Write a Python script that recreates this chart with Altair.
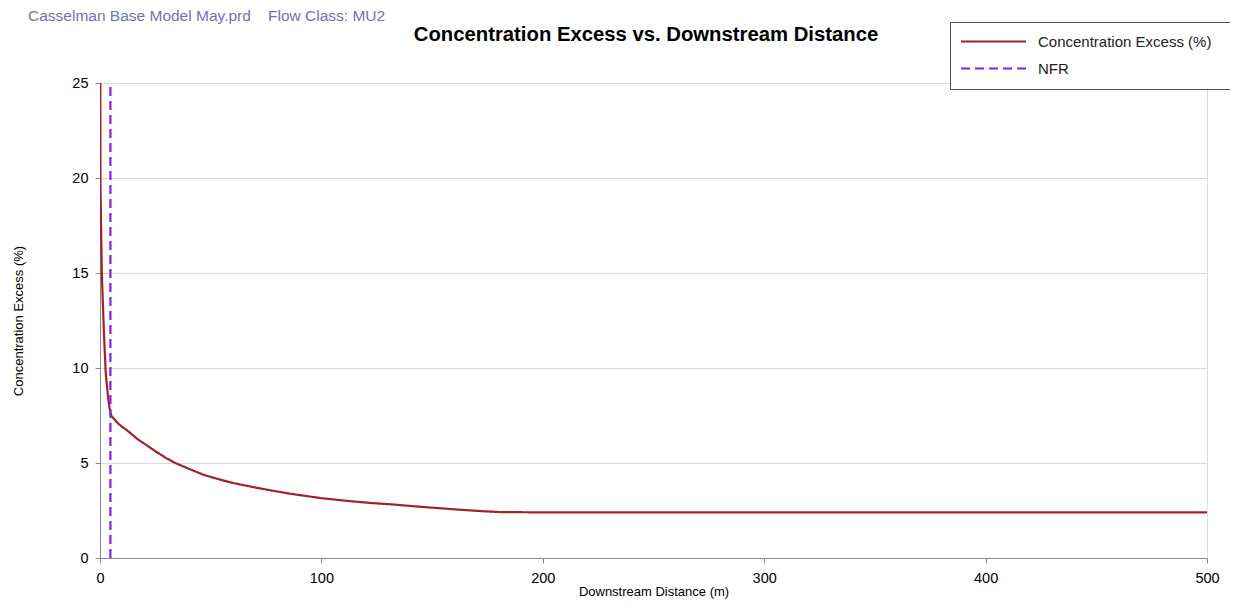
import altair as alt
import pandas as pd

# ---- data ----
distance_m = [0, 0.2, 0.8, 1.2, 1.8, 2.6, 3.2, 3.7, 4.3, 5, 8, 10, 12, 14, 17, 20, 22,
              25, 28, 30, 34, 40, 47, 55, 60, 65, 72, 78, 85, 92, 100, 108, 115, 123,
              132, 140, 150, 158, 165, 172, 180, 200, 300, 400, 500]
conc_excess = [40, 19.6, 15.1, 13.7, 11.8, 9.7, 9.0, 8.4, 7.9, 7.5, 7.1, 6.9, 6.74,
               6.55, 6.25, 6.02, 5.86, 5.62, 5.4, 5.25, 5.0, 4.7, 4.37, 4.1, 3.95,
               3.83, 3.67, 3.54, 3.4, 3.28, 3.15, 3.05, 2.97, 2.89, 2.82, 2.74, 2.65,
               2.58, 2.52, 2.47, 2.42, 2.4, 2.4, 2.4, 2.4]
nfr_x = [4.7, 4.7]
nfr_y = [0, 25]
series_names = ["Concentration Excess (%)", "NFR"]
series_colors = ["#a0222b", "#8b1ed8"]
corner_label = ["Casselman Base Model May.prd\u00a0\u00a0\u00a0 Flow Class: MU2"]
title_label = ["Concentration Excess vs. Downstream Distance"]
x_ticks = [0, 100, 200, 300, 400, 500]
y_ticks = [0, 5, 10, 15, 20, 25]

rows = []
for i, (d, c) in enumerate(zip(distance_m, conc_excess)):
    rows.append({"x": d, "y": c, "series": series_names[0], "order": i})
for i, (d, c) in enumerate(zip(nfr_x, nfr_y)):
    rows.append({"x": d, "y": c, "series": series_names[1], "order": i})
df = pd.DataFrame(rows)

FONT = "Liberation Sans"

legend = alt.Legend(
    title="\u00a0", titleOrient="right", titlePadding=14, titleFontSize=10,
    orient="none", legendX=850, legendY=-61,
    symbolType="M-6.5,0H6.5", symbolSize=100, symbolStrokeWidth=2.2,
    symbolOffset=24, labelOffset=37,
    labelFontSize=15, labelFont=FONT, labelColor="#222",
    rowPadding=11, padding=12, strokeColor="#555", fillColor="white",
    cornerRadius=0, labelLimit=400,
)

color_scale = alt.Scale(domain=series_names, range=series_colors)
dash_scale = alt.Scale(domain=series_names, range=[[1, 0], [9, 5]])

lines = alt.Chart(df).mark_line(clip=True, strokeWidth=2.2).encode(
    x=alt.X("x:Q", scale=alt.Scale(domain=[0, 500], nice=False, zero=False),
            axis=alt.Axis(values=x_ticks, title="Downstream Distance (m)", grid=False,
                          tickSize=5, labelPadding=8, labelFontSize=14.5, titleFontSize=13,
                          titleFontWeight="normal", titlePadding=1, labelFlush=False)),
    y=alt.Y("y:Q", scale=alt.Scale(domain=[0, 25], nice=False),
            axis=alt.Axis(values=y_ticks, title="Concentration Excess (%)", grid=True,
                          gridColor="#d9d9d9", tickSize=5, labelPadding=7,
                          labelFontSize=14.5, titleFontSize=13, titleFontWeight="normal",
                          titlePadding=46)),
    color=alt.Color("series:N", scale=color_scale, legend=legend),
    strokeDash=alt.StrokeDash("series:N", scale=dash_scale, legend=legend),
    order=alt.Order("order:Q"),
    detail="series:N",
)

corner = alt.Chart(pd.DataFrame({"label": corner_label})).mark_text(
    align="left", baseline="alphabetic", font=FONT, fontSize=15.5, color="#7272b4"
).encode(x=alt.value(-72), y=alt.value(-62), text="label:N")

title = alt.Chart(pd.DataFrame({"label": title_label})).mark_text(
    align="center", baseline="alphabetic", font=FONT, fontSize=20.3, fontWeight="bold",
    color="black"
).encode(x=alt.value(546), y=alt.value(-42), text="label:N")

chart = alt.layer(lines, corner, title).properties(
    width=1107, height=475,
    autosize=alt.AutoSizeParams(type="none"),
    padding={"left": 92, "top": 75, "right": 23, "bottom": 44},
).configure_view(stroke="black", strokeWidth=1).configure_axis(
    domainColor="black", tickColor="black", labelColor="#222", titleColor="#222",
    labelFont=FONT, titleFont=FONT, titleFontWeight="normal",
).configure(background="white")

chart.save("out.html", embed_options={"renderer": "svg", "actions": False})
